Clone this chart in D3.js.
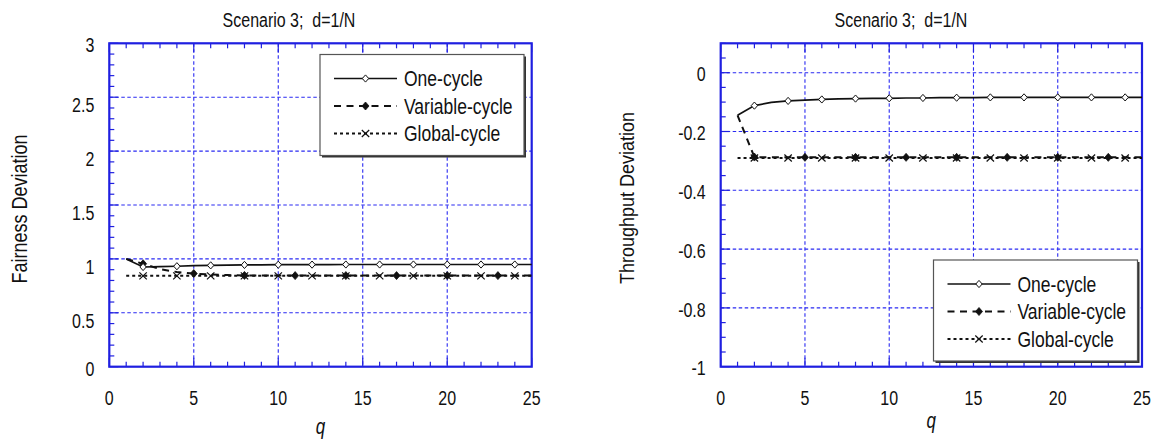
<!DOCTYPE html>
<html>
<head>
<meta charset="utf-8">
<script src="https://cdn.jsdelivr.net/npm/d3@7"></script>
<style>
  html, body { margin: 0; padding: 0; background: #fff; }
  svg { display: block; }
  text { font-family: "Liberation Sans", Arimo, sans-serif; fill: #111; white-space: pre; }
</style>
</head>
<body>
<svg id="chart" width="1161" height="441"></svg>
<script>
// ---- data ----
const q = [1, 2, 3, 4, 5, 6, 7, 8, 9, 10, 11, 12, 13, 14, 15, 16, 17, 18, 19, 20, 21, 22, 23, 24, 25];

const fairnessOne = [1.000, 0.925, 0.928, 0.932, 0.937, 0.940, 0.942, 0.944, 0.945, 0.946, 0.947, 0.947, 0.947,
  0.948, 0.948, 0.948, 0.948, 0.948, 0.948, 0.948, 0.948, 0.948, 0.948, 0.948, 0.948];
const fairnessVariable = [1.000, 0.955, 0.905, 0.878, 0.864, 0.855, 0.850, 0.847, 0.846, 0.845, 0.845, 0.845, 0.845,
  0.845, 0.845, 0.845, 0.845, 0.845, 0.845, 0.845, 0.845, 0.845, 0.845, 0.845, 0.845];
const fairnessGlobal = [0.843, 0.843, 0.843, 0.843, 0.843, 0.843, 0.843, 0.843, 0.843, 0.843, 0.843, 0.843, 0.843,
  0.843, 0.843, 0.843, 0.843, 0.843, 0.843, 0.843, 0.843, 0.843, 0.843, 0.843, 0.843];

const throughputOne = [-0.145, -0.112, -0.101, -0.096, -0.093, -0.091, -0.089, -0.088, -0.087, -0.087, -0.086, -0.086, -0.085,
  -0.085, -0.085, -0.084, -0.084, -0.084, -0.084, -0.084, -0.084, -0.084, -0.084, -0.084, -0.084];
const throughputVariable = [-0.145, -0.287, -0.288, -0.288, -0.288, -0.288, -0.288, -0.288, -0.288, -0.288, -0.288, -0.288, -0.288,
  -0.288, -0.288, -0.288, -0.288, -0.288, -0.288, -0.288, -0.288, -0.288, -0.288, -0.288, -0.288];
const throughputGlobal = [-0.290, -0.290, -0.290, -0.290, -0.290, -0.290, -0.290, -0.290, -0.290, -0.290, -0.290, -0.290, -0.290,
  -0.290, -0.290, -0.290, -0.290, -0.290, -0.290, -0.290, -0.290, -0.290, -0.290, -0.290, -0.290];

// q values that carry a marker, per series
const oneMarkerQ = [2, 4, 6, 8, 10, 12, 14, 16, 18, 20, 22, 24];
const variableMarkerQ = [2, 5, 8, 11, 14, 17, 20, 23];
const globalMarkerQ = [2, 4, 6, 8, 10, 12, 14, 16, 18, 20, 22, 24];

const seriesNames = ["One-cycle", "Variable-cycle", "Global-cycle"];
const chartTitle = "Scenario 3;  d=1/N";
const xTitle = "q";
const xTicks = [0, 5, 10, 15, 20, 25];
const fairnessTicks = [0, 0.5, 1, 1.5, 2, 2.5, 3];
const throughputTicks = [-1, -0.8, -0.6, -0.4, -0.2, 0];

// ---- drawing ----
const svg = d3.select("#chart");
const AXIS = "#1f1fe0";
const GRID = "#2a2af2";
const STRETCH = 1.27; // tall, narrow lettering

function label(g, x, y, str, opts = {}) {
  const size = opts.size || 16;
  const t = g.append("text")
    .attr("transform", `translate(${x},${y})` + (opts.rotate ? ` rotate(${opts.rotate})` : "") + ` scale(1,${opts.stretch || STRETCH})`)
    .attr("text-anchor", opts.anchor || "middle")
    .attr("font-size", size)
    .attr("xml:space", "preserve")
    .text(str);
  if (opts.italic) t.attr("font-style", "italic");
  return t;
}

const styles = [
  { dash: null, width: 1.7, marker: "openDiamond" },
  { dash: "7,5.5", width: 2, marker: "filledDiamond" },
  { dash: "3,3", width: 2, marker: "cross" }
];

function drawMarker(g, type, x, y) {
  if (type === "openDiamond") {
    g.append("path").attr("d", `M${x},${y - 3.6}L${x + 3.2},${y}L${x},${y + 3.6}L${x - 3.2},${y}Z`)
      .attr("fill", "#fff").attr("stroke", "#111").attr("stroke-width", 1);
  } else if (type === "filledDiamond") {
    g.append("path").attr("d", `M${x},${y - 4}L${x + 3.5},${y}L${x},${y + 4}L${x - 3.5},${y}Z`)
      .attr("fill", "#111").attr("stroke", "#111").attr("stroke-width", 0.8);
  } else {
    g.append("path").attr("d", `M${x - 3.7},${y - 3.5}L${x + 3.7},${y + 3.5}M${x - 3.7},${y + 3.5}L${x + 3.7},${y - 3.5}`)
      .attr("fill", "none").attr("stroke", "#111").attr("stroke-width", 1.2);
  }
}

function panel(cfg) {
  const g = svg.append("g");
  const x = d3.scaleLinear().domain([0, 25]).range([cfg.left, cfg.right]);
  const y = d3.scaleLinear().domain(cfg.yDomain).range([cfg.bottom, cfg.top]);

  // grid
  const grid = g.append("g").attr("stroke", GRID).attr("stroke-width", 1.1).attr("stroke-dasharray", "3.5,2.5");
  xTicks.filter(v => v > 0 && v < 25).forEach(v => {
    grid.append("line").attr("x1", x(v)).attr("x2", x(v)).attr("y1", cfg.top).attr("y2", cfg.bottom);
  });
  cfg.yTicks.filter(v => v > cfg.yDomain[0] && v < cfg.yDomain[1]).forEach(v => {
    grid.append("line").attr("x1", cfg.left).attr("x2", cfg.right).attr("y1", y(v)).attr("y2", y(v));
  });

  // tick marks: x on top and bottom, y on the left, all pointing inward
  const ticks = g.append("g").attr("stroke", AXIS).attr("stroke-width", 1.2);
  d3.range(0, 26).forEach(v => {
    const len = v % 5 === 0 ? 9 : 5;
    ticks.append("line").attr("x1", x(v)).attr("x2", x(v)).attr("y1", cfg.bottom).attr("y2", cfg.bottom - len);
    ticks.append("line").attr("x1", x(v)).attr("x2", x(v)).attr("y1", cfg.top).attr("y2", cfg.top + len);
  });
  const nMinor = Math.round((cfg.yDomain[1] - cfg.yDomain[0]) / cfg.minorStep);
  for (let i = 0; i <= nMinor; i++) {
    const v = cfg.yDomain[0] + i * cfg.minorStep;
    const major = cfg.yTicks.some(t => Math.abs(t - v) < 1e-6);
    ticks.append("line").attr("x1", cfg.left).attr("x2", cfg.left + (major ? 9 : 5)).attr("y1", y(v)).attr("y2", y(v));
  }

  // frame
  g.append("rect").attr("x", cfg.left).attr("y", cfg.top)
    .attr("width", cfg.right - cfg.left).attr("height", cfg.bottom - cfg.top)
    .attr("fill", "none").attr("stroke", AXIS).attr("stroke-width", 2.2);

  // tick labels
  xTicks.forEach(v => label(g, x(v), 405, String(v)));
  cfg.yTicks.forEach(v => label(g, cfg.left - 15, y(v) + cfg.yLabelShift(v), String(v), { anchor: "end" }));

  // series
  const line = d3.line().x(d => x(d[0])).y(d => y(d[1]));
  const order = [2, 1, 0];
  order.forEach(i => {
    const vals = cfg.series[i];
    g.append("path").datum(q.map((qq, k) => [qq, vals[k]]))
      .attr("d", line).attr("fill", "none").attr("stroke", "#111")
      .attr("stroke-width", styles[i].width)
      .attr("stroke-dasharray", styles[i].dash);
  });
  order.forEach(i => {
    const vals = cfg.series[i];
    cfg.markers[i].forEach(mq => drawMarker(g, styles[i].marker, x(mq), y(vals[q.indexOf(mq)])));
  });

  // legend
  const L = cfg.legend;
  g.append("rect").attr("x", L.x + 2).attr("y", L.y + 2).attr("width", 204).attr("height", 101).attr("fill", "#333");
  g.append("rect").attr("x", L.x).attr("y", L.y).attr("width", 204).attr("height", 101)
    .attr("fill", "#fff").attr("stroke", "#555").attr("stroke-width", 1.2);
  seriesNames.forEach((name, i) => {
    const ry = L.y + 24 + i * 27.5;
    g.append("line").attr("x1", L.x + 14).attr("x2", L.x + 77).attr("y1", ry).attr("y2", ry)
      .attr("stroke", "#111").attr("stroke-width", styles[i].width).attr("stroke-dasharray", styles[i].dash);
    drawMarker(g, styles[i].marker, L.x + 45.5, ry);
    label(g, L.x + 84, ry + 7.5, name, { anchor: "start", size: 17.5, stretch: 1.24 });
  });

  // titles
  label(g, cfg.titleX, 27, chartTitle);
  label(g, (cfg.left + cfg.right) / 2, cfg.qBaseline, xTitle, { italic: true, size: 17 });
  label(g, cfg.yTitleX, cfg.yTitleY, cfg.yTitle, { rotate: -90, size: 18, stretch: cfg.yTitleStretch });
}

panel({
  left: 109.3, right: 531.7, top: 43.3, bottom: 366.7,
  yDomain: [0, 3], yTicks: fairnessTicks, minorStep: 0.1,
  yLabelShift: v => (v === 0 || v === 3) ? 9 : 15,
  series: [fairnessOne, fairnessVariable, fairnessGlobal],
  markers: [oneMarkerQ, variableMarkerQ, globalMarkerQ],
  legend: { x: 320, y: 54.5 },
  titleX: 289, qBaseline: 434,
  yTitle: "Fairness Deviation", yTitleX: 27, yTitleY: 209, yTitleStretch: 1.27
});

panel({
  left: 720.7, right: 1142, top: 43.3, bottom: 366.7,
  yDomain: [-1, 0.1], yTicks: throughputTicks, minorStep: 0.05,
  yLabelShift: () => 8.7,
  series: [throughputOne, throughputVariable, throughputGlobal],
  markers: [oneMarkerQ, variableMarkerQ, globalMarkerQ],
  legend: { x: 933.5, y: 260 },
  titleX: 901, qBaseline: 428,
  yTitle: "Throughput Deviation", yTitleX: 634, yTitleY: 198, yTitleStretch: 1.15
});
</script>
</body>
</html>
